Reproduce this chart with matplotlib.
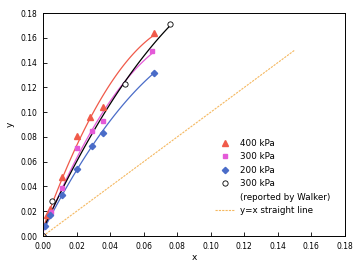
import numpy as np
import matplotlib.pyplot as plt
from matplotlib.lines import Line2D

# data
x400 = [0.0, 0.0025, 0.004, 0.011, 0.020, 0.028, 0.036, 0.066]
y400 = [0.0, 0.017, 0.022, 0.048, 0.081, 0.096, 0.104, 0.164]
x300 = [0.0, 0.005, 0.011, 0.020, 0.029, 0.036, 0.065]
y300 = [0.0, 0.019, 0.039, 0.071, 0.085, 0.093, 0.149]
x200 = [0.0, 0.001, 0.004, 0.011, 0.020, 0.029, 0.036, 0.066]
y200 = [0.0, 0.008, 0.017, 0.033, 0.054, 0.073, 0.083, 0.132]
xwalker = [0.0, 0.0055, 0.049, 0.076]
ywalker = [0.0, 0.028, 0.123, 0.171]
xline = [0.0, 0.15]

ticks = [0.00, 0.02, 0.04, 0.06, 0.08, 0.10, 0.12, 0.14, 0.16, 0.18]

red = "#f05a4a"
pink = "#e45ad8"
blue = "#4a6cc8"
orange = "#f5b860"

fig = plt.figure(figsize=(3.53, 2.67), dpi=100)
ax = fig.add_axes([0.122, 0.116, 0.855, 0.835])


def trend(x, y, color):
    c = np.polyfit(x, y, 2)
    xs = np.linspace(0, max(x), 60)
    ax.plot(xs, np.polyval(c, xs), color=color, lw=0.9)


trend(x400, y400, red)
trend(x300, y300, pink)
trend(x200, y200, blue)
trend(xwalker, ywalker, "black")

ax.plot(x400, y400, "^", color=red, ms=3.8, ls="none")
ax.plot(x300, y300, "s", color=pink, ms=3, ls="none")
ax.plot(x200, y200, "D", color=blue, ms=3.2, ls="none")
ax.plot(xwalker, ywalker, "o", mfc="white", mec="black", mew=0.6, ms=3.8, ls="none")
ax.plot(xline, xline, color=orange, lw=0.8, ls=(0, (2, 1)))

ax.set_xlim(0, 0.18)
ax.set_ylim(0, 0.18)
ax.set_xticks(ticks)
ax.set_yticks(ticks)
ax.xaxis.set_major_formatter(plt.FormatStrFormatter("%.2f"))
ax.yaxis.set_major_formatter(plt.FormatStrFormatter("%.2f"))
ax.tick_params(direction="in", length=3, width=0.6, labelsize=5.5)
ax.tick_params(axis="x", pad=4)
ax.tick_params(axis="y", pad=4)
for s in ax.spines.values():
    s.set_linewidth(0.7)
ax.set_xlabel("x", fontsize=6.5, labelpad=2)
ax.set_ylabel("y", fontsize=6.5, labelpad=4)

handles = [
    Line2D([], [], marker="^", color=red, ls="none", ms=3.8),
    Line2D([], [], marker="s", color=pink, ls="none", ms=3),
    Line2D([], [], marker="D", color=blue, ls="none", ms=3.2),
    Line2D([], [], marker="o", mfc="white", mec="black", mew=0.6, ls="none", ms=3.8),
    Line2D([], [], ls="none"),
    Line2D([], [], color=orange, lw=0.8, ls=(0, (2, 1))),
]
labels = ["400 kPa", "300 kPa", "200 kPa", "300 kPa", "(reported by Walker)", "y=x straight line"]
ax.legend(handles, labels, loc="upper left", bbox_to_anchor=(0.545, 0.47), frameon=False,
          fontsize=6.3, labelspacing=0.5, handlelength=2.2, handletextpad=0.6)

fig.savefig("out.png", dpi=100)
